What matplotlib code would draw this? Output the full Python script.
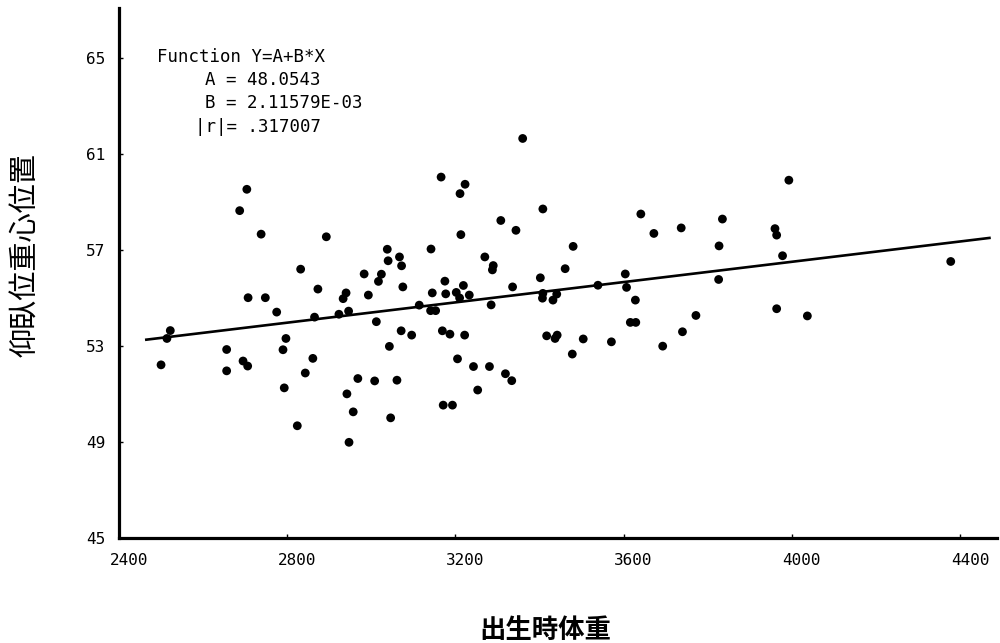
import matplotlib
matplotlib.use("Agg")
import matplotlib.pyplot as plt
from matplotlib.transforms import ScaledTranslation

# ---- data ----
birth_weight = [
    2522, 2514, 2500, 2656, 2656, 2695, 2706, 2687, 2704, 2738,
    2707, 2748, 2775, 2797, 2790, 2793, 2824, 2832, 2843, 2861,
    2865, 2873, 2893, 2923, 2933, 2940, 2946, 2942, 2957, 2947,
    2968, 2983, 2993, 3008, 3012, 3017, 3024, 3038, 3040, 3043,
    3046, 3061, 3067, 3072, 3075, 3071, 3096, 3114, 3142, 3145,
    3141, 3153, 3166, 3169, 3171, 3175, 3177, 3187, 3193, 3202,
    3210, 3211, 3223, 3213, 3219, 3222, 3233, 3205, 3243, 3253,
    3270, 3290, 3288, 3281, 3285, 3308, 3319, 3334, 3336, 3344,
    3360, 3402, 3408, 3408, 3407, 3417, 3432, 3441, 3437, 3442,
    3461, 3480, 3478, 3504, 3539, 3571, 3604, 3607, 3628, 3616,
    3629, 3641, 3672, 3693, 3737, 3740, 3772, 3826, 3827, 3835,
    3960, 3964, 3964, 3978, 3993, 4037, 4378,
]
supine_cog = [
    53.65, 53.32, 52.22, 52.86, 51.97, 52.38, 52.17, 58.65, 59.54, 57.67,
    55.02, 55.02, 54.42, 53.32, 52.85, 51.26, 49.68, 56.21, 51.88, 52.49,
    54.21, 55.38, 57.56, 54.33, 54.98, 55.22, 54.46, 51.01, 50.26, 48.99,
    51.65, 56.01, 55.13, 51.55, 54.02, 55.70, 56.00, 57.04, 56.56, 52.99,
    50.01, 51.58, 56.72, 56.35, 55.47, 53.64, 53.46, 54.71, 57.05, 55.22,
    54.48, 54.48, 60.05, 53.64, 50.54, 55.71, 55.18, 53.50, 50.54, 55.24,
    55.01, 59.36, 59.75, 57.65, 55.53, 53.46, 55.13, 52.47, 52.15, 51.17,
    56.72, 56.36, 56.18, 52.15, 54.72, 58.24, 51.85, 51.56, 55.47, 57.83,
    61.66, 55.85, 58.72, 55.20, 55.00, 53.43, 54.92, 55.17, 53.32, 53.46,
    56.23, 57.16, 52.67, 53.30, 55.54, 53.18, 56.01, 55.45, 54.92, 53.99,
    53.99, 58.51, 57.70, 53.00, 57.93, 53.60, 54.28, 55.78, 57.18, 58.30,
    57.90, 57.63, 54.56, 56.77, 59.92, 54.26, 56.53,
]
coef_A = 48.0543
coef_B = 2.11579e-03
fit_x_range = [2465, 4470]

x_ticks = [2400, 2800, 3200, 3600, 4000, 4400]
y_ticks = [45, 49, 53, 57, 61, 65]
x_label = "出生時体重"
y_label = "仰臥位重心位置"
ann_lines = ["Function Y=A+B*X", "A = 48.0543", "B = 2.11579E-03", "|r|= .317007"]

# ---- figure ----
fig = plt.figure(figsize=(10, 6.43), dpi=100)
ax = fig.add_axes([0.119, 1 - 538 / 643, (997 - 119) / 1000, (538 - 8) / 643])
ax.set_xlim(2400, 4488)
ax.set_ylim(45, 67.1)

ax.scatter(birth_weight, supine_cog, s=40, color="black", edgecolors="none", zorder=3)
fit_y = [coef_A + coef_B * v for v in fit_x_range]
ax.plot(fit_x_range, fit_y, color="black", lw=1.9, zorder=2)

for side in ("top", "right"):
    ax.spines[side].set_visible(False)
for side in ("left", "bottom"):
    ax.spines[side].set_linewidth(2.3)
    ax.spines[side].set_color("black")

mono = "DejaVu Sans Mono"
ax.set_xticks(x_ticks)
ax.set_yticks(y_ticks)
ax.set_xticklabels([str(t) for t in x_ticks], fontfamily=mono, fontsize=11.5)
ax.set_yticklabels([str(t) for t in y_ticks], fontfamily=mono, fontsize=11.5)
ax.tick_params(axis="both", direction="in", length=3, width=1, colors="black")
ax.tick_params(axis="x", pad=11)
ax.tick_params(axis="y", pad=10)

offset = ScaledTranslation(10 / 100, 0, fig.dpi_scale_trans)
for lab in ax.get_xticklabels():
    lab.set_transform(lab.get_transform() + offset)

# annotation block
ann_pos = [(157, 57), (205, 80), (205, 103), (195, 127)]
for (px, py), txt in zip(ann_pos, ann_lines):
    fig.text(px / 1000, 1 - py / 643, txt, fontfamily=mono, fontsize=12.5,
             ha="left", va="center", color="black")

cjk = ["Noto Sans CJK JP", "DejaVu Sans"]
fig.text(26 / 1000, 1 - 255 / 643, y_label, rotation=90, family=cjk,
         fontsize=21, ha="center", va="center", color="black")
fig.text(545 / 1000, 1 - 638 / 643, x_label, family=cjk, fontsize=19,
         fontweight="bold", ha="center", va="baseline", color="black")

fig.savefig("out.png", dpi=100, facecolor="white")
